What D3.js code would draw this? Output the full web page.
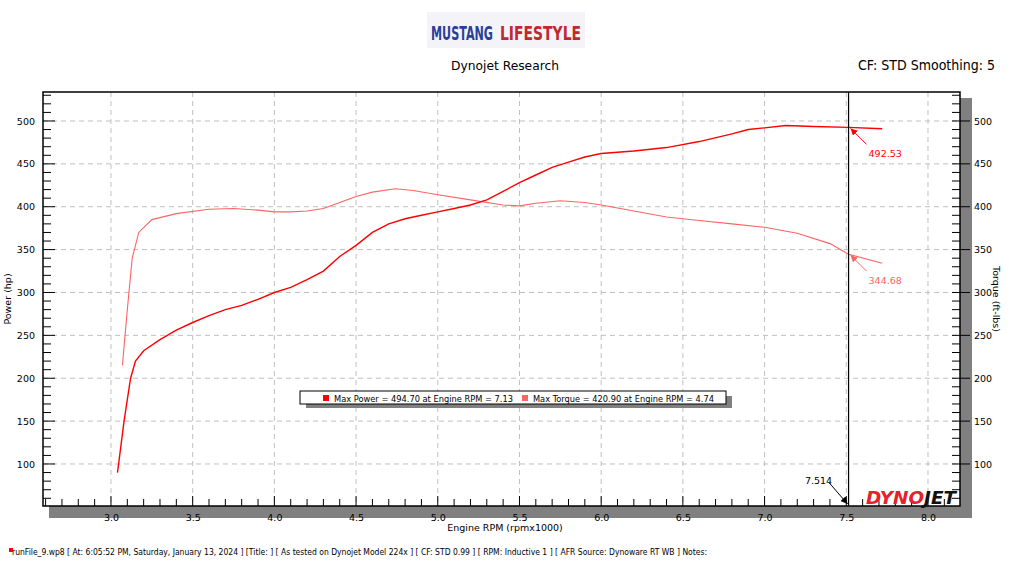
<!DOCTYPE html>
<html><head><meta charset="utf-8">
<script src="https://d3js.org/d3.v7.min.js"></script>
<style>body{margin:0;background:#fff;font-family:"DejaVu Sans",sans-serif}</style>
</head><body><svg id="c" width="1011" height="568" font-family="'DejaVu Sans',sans-serif"></svg>
<script>
const powerRpm=[3.04,3.08,3.12,3.15,3.2,3.3,3.4,3.5,3.6,3.7,3.8,3.9,4.0,4.1,4.2,4.3,4.4,4.5,4.6,4.7,4.8,4.9,5.0,5.1,5.2,5.3,5.4,5.5,5.6,5.7,5.8,5.9,6.0,6.2,6.4,6.6,6.8,6.9,7.0,7.13,7.3,7.514,7.72];
const powerHp=[90,150,200,220,232,245,256,265,273,280,285,292,300,306,315,325,342,355,370,380,386,390,394,398,402,408,418,428,437,446,452,458,462,465,469,476,485,490,492,494.7,493.5,492.5,491];
const torqueRpm=[3.07,3.1,3.13,3.17,3.25,3.4,3.6,3.75,3.9,4.0,4.1,4.2,4.3,4.4,4.5,4.6,4.74,4.85,5.0,5.2,5.4,5.5,5.6,5.75,5.9,6.0,6.2,6.4,6.6,6.8,7.0,7.2,7.4,7.514,7.72];
const torqueVal=[215,280,340,370,385,392,397,398,396,394,394,395,398,405,412,417,420.9,419,414,408,402,401,404,407,405,402,395,388,384,380,376,369,357,344.68,334];
const xTicks=[3.0,3.5,4.0,4.5,5.0,5.5,6.0,6.5,7.0,7.5,8.0];
const yTicks=[100,150,200,250,300,350,400,450,500];
const cursorRpm=7.514, cursorPower=492.53, cursorTorque=344.68;

const svg=d3.select("#c");
const L=43,R=960,T=92,B=506;
const x=d3.scaleLinear().domain([2.584,8.196]).range([L,R]);
const y=d3.scaleLinear().domain([51,533.8]).range([B,T]);
svg.append("rect").attr("x",L+6).attr("y",T+6).attr("width",R-L+6).attr("height",B-T+6).attr("fill","#808080");
svg.append("rect").attr("x",L).attr("y",T).attr("width",R-L).attr("height",B-T).attr("fill","#fff");
const g=svg.append("g");
xTicks.forEach(t=>g.append("line").attr("x1",x(t)).attr("x2",x(t)).attr("y1",T).attr("y2",B).attr("stroke","#c0c0c0").attr("stroke-dasharray","5,4"));
yTicks.forEach(t=>g.append("line").attr("x1",L).attr("x2",R).attr("y1",y(t)).attr("y2",y(t)).attr("stroke","#c0c0c0").attr("stroke-dasharray","5,4"));
svg.append("rect").attr("x",L).attr("y",T).attr("width",R-L).attr("height",B-T).attr("fill","none").attr("stroke","#000").attr("stroke-width",1.5);
const minorY=d3.range(60,531,10), minorX=d3.range(2.6,8.2,0.1);
const ax=svg.append("g").attr("transform",`translate(0,${B})`).call(d3.axisBottom(x).tickValues(xTicks).tickFormat(d3.format(".1f")).tickSize(0).tickPadding(8));
const ayl=svg.append("g").attr("transform",`translate(${L},0)`).call(d3.axisLeft(y).tickValues(yTicks).tickSize(0).tickPadding(8));
const ayr=svg.append("g").attr("transform",`translate(${R},0)`).call(d3.axisRight(y).tickValues(yTicks).tickSize(0).tickPadding(14));
[ax,ayl,ayr].forEach(a=>{a.select(".domain").remove();a.selectAll("text").attr("font-family","'DejaVu Sans',sans-serif").attr("font-size",9.5).attr("fill","#000");});
minorY.forEach(v=>{const big=v%50===0;
 svg.append("line").attr("x1",L).attr("x2",L+(big?12:8)).attr("y1",y(v)).attr("y2",y(v)).attr("stroke","#000");
 svg.append("line").attr("x1",R-8).attr("x2",R+(big?10:0)).attr("y1",y(v)).attr("y2",y(v)).attr("stroke","#000");});
minorX.forEach(v=>{const big=Math.abs(v*2-Math.round(v*2))<1e-6;
 svg.append("line").attr("x1",x(v)).attr("x2",x(v)).attr("y1",B).attr("y2",B-(big?10:7)).attr("stroke","#000");});
const line=d3.line().x(d=>x(d[0])).y(d=>y(d[1]));
svg.append("path").datum(torqueRpm.map((r,i)=>[r,torqueVal[i]])).attr("d",line).attr("fill","none").attr("stroke","#ff6464").attr("stroke-width",1.1);
svg.append("path").datum(powerRpm.map((r,i)=>[r,powerHp[i]])).attr("d",line).attr("fill","none").attr("stroke","#ff0000").attr("stroke-width",1.4);
svg.append("text").attr("x",866).attr("y",504).attr("font-weight","bold").attr("font-style","italic").attr("font-size",18).attr("textLength",90).attr("lengthAdjust","spacingAndGlyphs")
 .html('<tspan fill="#e8202a">DYNO</tspan><tspan fill="#111">JET</tspan>');
svg.append("line").attr("x1",x(cursorRpm)).attr("x2",x(cursorRpm)).attr("y1",T).attr("y2",B).attr("stroke","#000").attr("stroke-width",1.2);
const defs=svg.append("defs");
[["ar","#ff0000"],["at","#ff6464"],["ak","#000"]].forEach(([id,c])=>defs.append("marker").attr("id",id).attr("viewBox","0 0 10 10").attr("refX",10).attr("refY",5).attr("markerWidth",7).attr("markerHeight",7).attr("orient","auto").append("path").attr("d","M0,0L10,5L0,10z").attr("fill",c));
svg.append("line").attr("x1",x(cursorRpm)+18).attr("x2",x(cursorRpm)+2).attr("y1",y(cursorPower)+17).attr("y2",y(cursorPower)+1).attr("stroke","#ff0000").attr("marker-end","url(#ar)");
svg.append("text").attr("x",x(cursorRpm)+20).attr("y",y(cursorPower)+30).text(cursorPower.toFixed(2)).attr("font-size",9.5).attr("fill","#ff0000");
svg.append("line").attr("x1",x(cursorRpm)+18).attr("x2",x(cursorRpm)+2).attr("y1",y(cursorTorque)+17).attr("y2",y(cursorTorque)+1).attr("stroke","#ff6464").attr("marker-end","url(#at)");
svg.append("text").attr("x",x(cursorRpm)+20).attr("y",y(cursorTorque)+30).text(cursorTorque.toFixed(2)).attr("font-size",9.5).attr("fill","#ff6464");
svg.append("line").attr("x1",x(cursorRpm)-20).attr("x2",x(cursorRpm)-1).attr("y1",B-24).attr("y2",B-2).attr("stroke","#000").attr("marker-end","url(#ak)");
svg.append("text").attr("x",x(cursorRpm)-30).attr("y",B-22).attr("text-anchor","middle").text(cursorRpm.toFixed(3)).attr("font-size",9.5);
svg.append("rect").attr("x",306).attr("y",396).attr("width",426).attr("height",12).attr("fill","#808080");
svg.append("rect").attr("x",300).attr("y",391).attr("width",426).attr("height",13).attr("fill","#fff").attr("stroke","#000");
svg.append("rect").attr("x",323).attr("y",395).attr("width",6).attr("height",6).attr("fill","#ff0000");
svg.append("text").attr("x",334).attr("y",401.5).attr("font-size",9).attr("textLength",179).attr("lengthAdjust","spacingAndGlyphs").text("Max Power = 494.70 at Engine RPM = 7.13");
svg.append("rect").attr("x",522).attr("y",395).attr("width",6).attr("height",6).attr("fill","#ff6464");
svg.append("text").attr("x",533).attr("y",401.5).attr("font-size",9).attr("textLength",181).attr("lengthAdjust","spacingAndGlyphs").text("Max Torque = 420.90 at Engine RPM = 4.74");
svg.append("text").attr("x",505).attr("y",531).attr("text-anchor","middle").attr("font-size",9.5).text("Engine RPM (rpmx1000)");
svg.append("text").attr("transform",`translate(11,${(T+B)/2}) rotate(-90)`).attr("text-anchor","middle").attr("font-size",9.5).text("Power (hp)");
svg.append("text").attr("transform",`translate(993,${(T+B)/2}) rotate(90)`).attr("text-anchor","middle").attr("font-size",9.5).text("Torque (ft-lbs)");
svg.append("text").attr("x",505).attr("y",70).attr("text-anchor","middle").attr("font-size",13).attr("textLength",108).attr("lengthAdjust","spacingAndGlyphs").text("Dynojet Research");
svg.append("text").attr("x",995).attr("y",70).attr("text-anchor","end").attr("font-size",14).attr("textLength",137).attr("lengthAdjust","spacingAndGlyphs").text("CF: STD Smoothing: 5");
svg.append("rect").attr("x",427).attr("y",12).attr("width",158).attr("height",36).attr("fill","#f4f4f8");
svg.append("text").attr("x",431).attr("y",40).attr("font-weight","bold").attr("font-size",19).attr("textLength",62).attr("lengthAdjust","spacingAndGlyphs")
 .attr("fill","#2a3f9a").text("MUSTANG");
svg.append("text").attr("x",500).attr("y",40).attr("font-weight","bold").attr("font-size",19).attr("textLength",81).attr("lengthAdjust","spacingAndGlyphs")
 .attr("fill","#c0282e").text("LIFESTYLE");
svg.append("rect").attr("x",9).attr("y",548).attr("width",4).attr("height",4).attr("fill","#ff0000");
svg.append("text").attr("x",12).attr("y",555).attr("font-size",8).attr("textLength",695).attr("lengthAdjust","spacingAndGlyphs").text("runFile_9.wp8 [ At: 6:05:52 PM, Saturday, January 13, 2024 ] [Title: ]  [ As tested on Dynojet Model 224x ] [ CF: STD 0.99 ] [ RPM: Inductive 1 ] [ AFR Source: Dynoware RT WB ] Notes:");
</script></body></html>
